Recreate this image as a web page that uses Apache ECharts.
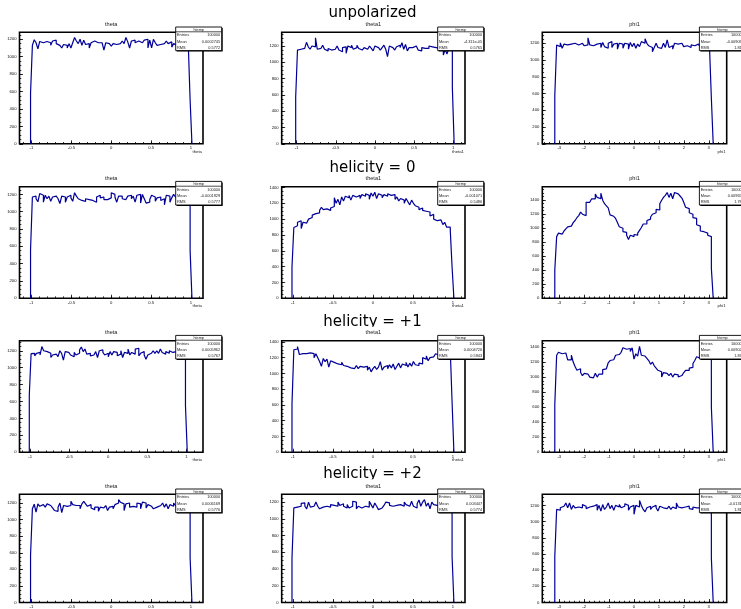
<!DOCTYPE html>
<html><head><meta charset="utf-8">
<script src="https://cdn.jsdelivr.net/npm/echarts@6/dist/echarts.min.js"></script>
<style>html,body{margin:0;padding:0;background:#fff}#c{width:741px;height:609px}</style>
</head><body><div id="c"></div>
<script>
// ---------------- data ----------------
const headings = ['unpolarized', 'helicity = 0', 'helicity = +1', 'helicity = +2'];
const panelTitles = ['theta', 'theta1', 'phi1'];
const axisTitles = ['theta', 'theta1', 'phi1'];
const thetaTicks = [-1, -0.5, 0, 0.5, 1];
const phiTicks = [-3, -2, -1, 0, 1, 2, 3];
const yTicks1200 = [0, 200, 400, 600, 800, 1000, 1200];
const yTicks1400 = [0, 200, 400, 600, 800, 1000, 1200, 1400];
// data span of each variable (histogram filled between these)
const dataLo = [-1, -1, -Math.PI];
const dataHi = [1, 1, Math.PI];

// x-axis ranges [min,max] per row, per column
const xRanges = [
  [[-1.15, 1.15], [-1.19, 1.15], [-3.68, 3.72]],
  [[-1.15, 1.15], [-1.14, 1.15], [-3.68, 3.72]],
  [[-1.137, 1.213], [-1.14, 1.15], [-3.68, 3.72]],
  [[-1.15, 1.15], [-1.14, 1.15], [-3.68, 3.72]]
];
// y-axis maxima per row, per column
const yMax = [
  [1280, 1368, 1331],
  [1289, 1410, 1593],
  [1319, 1415, 1484],
  [1305, 1293, 1337]
];

const unpolTheta = [580,1130,1195,1160,1090,1175,1160,1170,1175,1180,1160,1130,1180,1190,1150,1130,1110,1100,1140,1130,1100,1150,1100,1160,1220,1180,1150,1200,1130,1190,1140,1150,1100,1160,1180,1190,1160,1150,1160,1140,1075,1160,1150,1140,1120,1150,1140,1150,1150,1160,1180,1150,1220,1170,1100,1180,1190,1160,1180,1170,1160,1170,1190,1200,1100,1190,1100,1200,1160,1130,1140,1120,1150,1160,1180,1150,1170,1110,1150,1130,1160,1120,1170,1150,1160,1140,1150,500];
const unpolTheta1 = [570,1150,1160,1140,1170,1180,1245,1190,1160,1200,1190,1300,1160,1170,1150,1210,1160,1140,1170,1150,1160,1160,1180,1200,1150,1130,1180,1190,1110,1200,1180,1210,1160,1180,1210,1170,1150,1130,1180,1160,1180,1200,1170,1140,1200,1180,1190,1150,1180,1210,1160,1070,1200,1180,1170,1150,1190,1210,1180,1240,1160,1220,1140,1180,1180,1160,1200,1210,1150,1140,1180,1170,1180,1170,1200,1190,1210,1180,1200,1170,1190,1180,1090,1160,1100,1170,1150,690];
const unpolPhi1 = [580,1180,1160,1205,1140,1190,1180,1200,1190,1170,1200,1210,1180,1160,1200,1190,1170,1180,1265,1180,1170,1180,1190,1180,1200,1150,1210,1160,1140,1200,1220,1150,1190,1200,1130,1200,1190,1140,1200,1190,1130,1210,1160,1200,1140,1190,1160,1220,1200,1255,1200,1170,1150,1100,1150,1200,1150,1140,1150,1200,1150,1240,1150,1170,1130,1200,1190,1170,1200,1180,1160,1170,1190,1150,1180,1170,1160,1190,1170,1150,1180,1160,1170,1150,1160,540];

const h0Theta = [560,1170,1180,1150,1115,1210,1190,1110,1190,1150,1180,1120,1170,1180,1180,1150,1095,1180,1170,1110,1170,1190,1160,1120,1220,1180,1150,1130,1140,1120,1150,1140,1120,1130,1150,1110,1170,1190,1160,1170,1140,1140,1140,1160,1220,1200,1170,1110,1180,1180,1150,1140,1130,1180,1190,1150,1180,1110,1190,1200,1100,1200,1150,1100,1110,1140,1190,1170,1120,1160,1170,1130,1150,1080,1190,1180,1110,1160,1200,1170,1150,1180,1160,1170,1140,1160,1150,550];
const h0Theta1 = [395,895,916,960,980,880,960,950,930,1000,1020,1050,1070,1060,1080,1110,1150,1120,1130,1120,1110,1140,1160,1270,1200,1250,1180,1280,1230,1290,1270,1300,1240,1300,1280,1290,1300,1260,1310,1290,1320,1300,1250,1330,1290,1340,1260,1320,1300,1270,1310,1290,1320,1300,1290,1310,1250,1280,1230,1260,1240,1200,1260,1220,1180,1240,1200,1170,1150,1120,1140,1110,1100,1120,1090,1040,1060,1000,980,960,990,970,930,960,900,900,870,395];
const h0Phi1 = [403,880,930,915,935,960,990,1020,1030,1040,1080,1110,1150,1180,1230,1200,1180,1370,1370,1380,1420,1420,1490,1440,1420,1500,1400,1350,1320,1290,1190,1170,1160,1140,1080,1020,1000,950,940,900,840,900,880,910,900,930,970,1010,1060,1060,1110,1130,1160,1200,1220,1270,1260,1350,1400,1440,1470,1510,1440,1500,1420,1510,1490,1510,1460,1430,1370,1300,1280,1220,1200,1150,1140,1050,1030,960,950,940,930,900,880,427];

const h1Theta = [680,1165,1170,1140,1170,1180,1150,1250,1200,1190,1200,1170,1120,1150,1160,1180,1130,1200,1170,1090,1190,1180,1170,1150,1130,1180,1150,1170,1210,1245,1190,1220,1160,1170,1140,1150,1150,1190,1120,1200,1210,1180,1150,1170,1130,1190,1150,1190,1180,1140,1160,1200,1120,1180,1170,1220,1150,1180,1160,1220,1230,1140,1170,1190,1150,1100,1150,1170,1190,1200,1170,1200,1170,1220,1180,1160,1190,1170,1200,1180,1160,1190,1170,1200,1180,1160,1170,550];
const h1Theta1 = [610,1300,1310,1340,1240,1250,1260,1250,1240,1260,1240,1250,1200,1250,1200,1150,1090,1190,1150,1180,1080,1160,1140,1150,1120,1130,1110,1140,1100,1090,1110,1070,1090,1060,1080,1100,1060,1090,1080,1070,1090,1040,1080,1020,1060,1090,1050,1080,1150,1040,1080,1100,1060,1110,1070,1120,1050,1090,1130,1070,1120,1100,1140,1080,1130,1090,1150,1110,1100,1130,1120,1200,1180,1220,1160,1200,1210,1190,1250,1230,1290,1280,1300,1290,1320,1310,1300,640];
const h1Phi1 = [633,1290,1330,1310,1310,1320,1310,1230,1230,1290,1200,1140,1090,1110,1060,1020,1050,1040,1020,1000,990,970,1050,1000,1040,1040,1100,1110,1090,1190,1220,1230,1210,1290,1300,1320,1330,1390,1370,1350,1380,1340,1390,1240,1310,1280,1410,1290,1280,1260,1250,1220,1170,1200,1150,1120,1090,1070,1000,1060,1050,1040,1020,1050,1000,1040,1030,1000,1020,1010,1060,1090,1090,1120,1130,1180,1220,1270,1250,1290,1300,1320,1310,1330,1320,602];

const h2Theta = [570,1130,1185,1090,1190,1160,1180,1200,1150,1190,1170,1160,1140,1110,1100,1150,1200,1085,1170,1160,1180,1170,1220,1180,1170,1150,1170,1130,1190,1220,1190,1160,1180,1140,1120,1150,1150,1100,1150,1140,1130,1170,1110,1150,1160,1130,1180,1200,1240,1210,1190,1110,1190,1200,1150,1160,1170,1150,1200,1190,1130,1210,1200,1140,1180,1160,1150,1130,1150,1160,1170,1160,1200,1150,1190,1130,1180,1160,1200,1170,1160,1180,1150,1170,1160,1150,1170,540];
const h2Theta1 = [530,1130,1140,1160,1150,1185,1190,1150,1120,1200,1140,1150,1130,1200,1150,1120,1140,1160,1150,1130,1140,1170,1160,1180,1150,1200,1160,1180,1150,1130,1170,1130,1150,1210,1200,1120,1150,1130,1140,1150,1160,1140,1210,1170,1130,1190,1150,1110,1130,1150,1160,1200,1190,1160,1150,1130,1160,1150,1170,1190,1150,1200,1170,1150,1160,1210,1150,1130,1180,1225,1150,1200,1230,1150,1190,1120,1200,1170,1160,1180,1150,1190,1070,1160,1140,1170,1150,550];
const h2Phi1 = [570,1150,1140,1170,1190,1180,1230,1170,1230,1150,1200,1170,1180,1190,1170,1210,1190,1160,1180,1200,1190,1170,1210,1140,1200,1130,1210,1150,1180,1230,1160,1200,1140,1200,1180,1210,1170,1190,1220,1200,1140,1180,1200,1090,1200,1180,1260,1200,1150,1120,1170,1190,1150,1180,1200,1170,1130,1190,1170,1180,1160,1170,1190,1150,1180,1160,1230,1180,1170,1160,1180,1170,1190,1160,1150,1180,1170,1160,1170,1150,1170,1160,1180,1150,1170,550];

const histograms = [
  [unpolTheta, unpolTheta1, unpolPhi1],
  [h0Theta, h0Theta1, h0Phi1],
  [h1Theta, h1Theta1, h1Phi1],
  [h2Theta, h2Theta1, h2Phi1]
];
const statsEntries = '100000';
const statsMean = [
  ['0.0002745', '-4.311e-05', '-0.009091'],
  ['-0.0001929', '-0.001071', '0.009653'],
  ['0.0005962', '0.0004726', '0.009022'],
  ['0.0006169', '0.003447', '-0.01312']
];
const statsRMS = [
  ['0.5772', '0.5765', '1.812'],
  ['0.5777', '0.5486', '1.785'],
  ['0.5767', '0.5943', '1.833'],
  ['0.5776', '0.5774', '1.812']
];

// ---------------- layout ----------------
const colLeft = [19.5, 281.7, 542.3];
const colWidth = [183.5, 183.3, 184.4];
const rowTop = [32.3, 186.7, 340.7, 494.3];
const plotH = 111.5;
const headingBase = [17.3, 171.7, 325.7, 478.3];
const padTop = [20.7, 173.3, 326.7, 479.3];
const HIST_COLOR = '#000099';
const FONT = 'Liberation Sans, Arial, sans-serif';

function minorList(lo, hi, step) {
  const out = [];
  const start = Math.ceil(lo / step - 1e-9);
  for (let k = start; k * step <= hi + 1e-9; k++) out.push(+(k * step).toFixed(6));
  return out;
}
function histPoints(vals, lo, hi) {
  const n = vals.length;
  const w = (hi - lo) / (n - 1);
  const pts = [[lo - w / 2, 0]];
  for (let i = 0; i < n; i++) pts.push([lo - w / 2 + i * w, vals[i]]);
  pts.push([hi + w / 2, vals[n - 1]]);
  pts.push([hi + w / 2, 0]);
  return pts;
}
function fmt(v) { return String(v); }

const grids = [], xAxes = [], yAxes = [], series = [], graphics = [];
let gi = 0;
for (let r = 0; r < 4; r++) {
  for (let c = 0; c < 3; c++) {
    const left = colLeft[c], top = rowTop[r], w = colWidth[c];
    const [xmin, xmax] = xRanges[r][c];
    const ym = yMax[r][c];
    const majX = c === 2 ? phiTicks : thetaTicks;
    const minX = minorList(xmin, xmax, c === 2 ? 0.2 : 0.1);
    const majY = ym >= 1400 ? yTicks1400 : yTicks1200;
    const minY = minorList(0, ym, 50);
    grids.push({ left: left, top: top, width: w, height: plotH, show: true, borderColor: '#000', borderWidth: 1.6, backgroundColor: 'transparent' });
    const baseX = { type: 'value', gridIndex: gi, min: xmin, max: xmax, position: 'bottom', splitLine: { show: false }, axisLine: { show: false, onZero: false } };
    xAxes.push(Object.assign({}, baseX, {
      axisTick: { inside: true, length: 3.5, lineStyle: { color: '#000', width: 0.8 }, customValues: majX },
      axisLabel: { fontSize: 4.2, fontFamily: FONT, color: '#111', margin: 2.5, customValues: majX, formatter: fmt }
    }));
    xAxes.push(Object.assign({}, baseX, {
      axisTick: { inside: true, length: 1.8, lineStyle: { color: '#000', width: 0.8 }, customValues: minX },
      axisLabel: { show: false }
    }));
    const baseY = { type: 'value', gridIndex: gi, min: 0, max: ym, position: 'left', splitLine: { show: false }, axisLine: { show: false, onZero: false } };
    yAxes.push(Object.assign({}, baseY, {
      axisTick: { inside: true, length: 3.5, lineStyle: { color: '#000', width: 0.8 }, customValues: majY },
      axisLabel: { fontSize: 4.2, fontFamily: FONT, color: '#111', margin: 3, customValues: majY, formatter: fmt }
    }));
    yAxes.push(Object.assign({}, baseY, {
      axisTick: { inside: true, length: 1.8, lineStyle: { color: '#000', width: 0.8 }, customValues: minY },
      axisLabel: { show: false }
    }));
    series.push({
      type: 'line', step: 'end', xAxisIndex: 2 * gi, yAxisIndex: 2 * gi,
      data: histPoints(histograms[r][c], dataLo[c], dataHi[c]),
      symbol: 'none', lineStyle: { color: HIST_COLOR, width: 1.2 }, animation: false, silent: true, clip: true, z: 3
    });
    // panel title
    graphics.push({ type: 'text', x: left + w / 2, y: top - 8, z: 120,
      style: { text: panelTitles[c], font: '5.6px ' + FONT, fill: '#222', align: 'center', verticalAlign: 'middle' } });
    // axis title
    graphics.push({ type: 'text', x: left + w - 1, y: top + plotH + 7.7, z: 120,
      style: { text: axisTitles[c], font: '4.3px ' + FONT, fill: '#222', align: 'right', verticalAlign: 'middle' } });
    // stats box
    const bx = left + w - 27.3, by = top - 5.3, bw = 46, bh = 23.6;
    graphics.push({ type: 'rect', z: 110, shape: { x: bx + 1, y: by + 1, width: bw, height: bh }, style: { fill: '#000' } });
    graphics.push({ type: 'rect', z: 111, shape: { x: bx, y: by, width: bw, height: bh }, style: { fill: '#fff', stroke: '#000', lineWidth: 0.9 } });
    graphics.push({ type: 'line', z: 112, shape: { x1: bx, y1: by + 4.8, x2: bx + bw, y2: by + 4.8 }, style: { stroke: '#000', lineWidth: 0.7 } });
    graphics.push({ type: 'text', z: 113, x: bx + bw / 2, y: by + 2.5, style: { text: 'htemp', font: '3.8px ' + FONT, fill: '#222', align: 'center', verticalAlign: 'middle' } });
    const rowsTxt = [['Entries', statsEntries], ['Mean', statsMean[r][c]], ['RMS', statsRMS[r][c]]];
    rowsTxt.forEach((rt, i) => {
      const yy = by + 8.2 + i * 6.3;
      graphics.push({ type: 'text', z: 113, x: bx + 1.3, y: yy, style: { text: rt[0], font: '3.9px ' + FONT, fill: '#222', align: 'left', verticalAlign: 'middle' } });
      graphics.push({ type: 'text', z: 113, x: bx + bw - 1.5, y: yy, style: { text: rt[1], font: '3.9px ' + FONT, fill: '#222', align: 'right', verticalAlign: 'middle' } });
    });
    gi++;
  }
}
// headings (clipped at the pad top like the original)
for (let r = 0; r < 4; r++) {
  graphics.push({ type: 'text', z: 100, x: 372.5, y: headingBase[r] + 3.5, style: { text: headings[r], font: '15px "DejaVu Sans", sans-serif', fill: '#000', align: 'center', verticalAlign: 'bottom' } });
  graphics.push({ type: 'rect', z: 101, shape: { x: 300, y: padTop[r], width: 150, height: 7 }, style: { fill: '#fff' } });
}

const chart = echarts.init(document.getElementById('c'), null, { renderer: 'canvas' });
chart.setOption({
  animation: false,
  backgroundColor: '#fff',
  grid: grids, xAxis: xAxes, yAxis: yAxes, series: series,
  graphic: { elements: graphics }
});
</script></body></html>
